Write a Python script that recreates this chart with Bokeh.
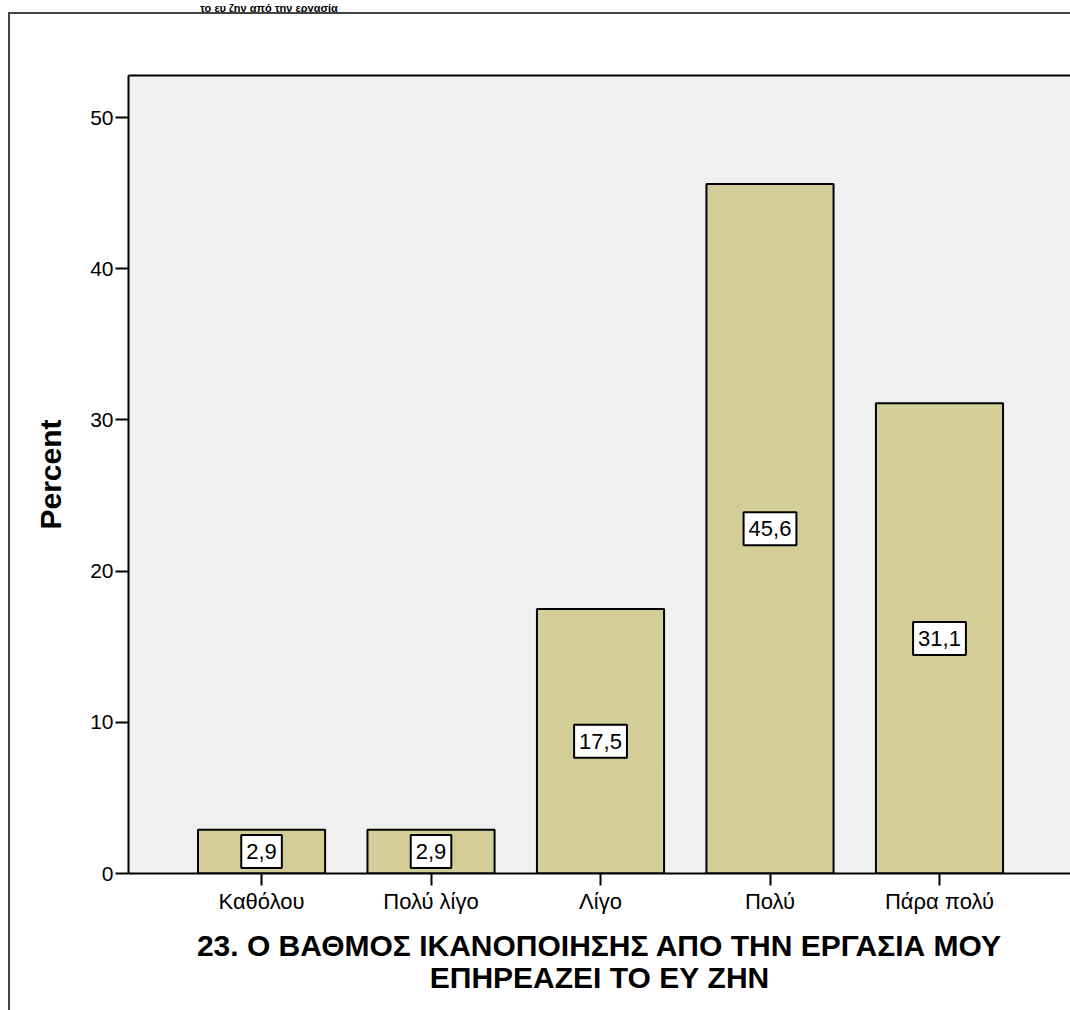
from bokeh.plotting import figure
from bokeh.layouts import column
from bokeh.models import Range1d, FixedTicker, LinearAxis, ColumnDataSource, Label, Div
from bokeh.embed import file_html
from bokeh.resources import INLINE

# Satisfaction responses (percent of respondents)
categories = ["Καθόλου", "Πολύ λίγο", "Λίγο", "Πολύ", "Πάρα πολύ"]
percent = [2.9, 2.9, 17.5, 45.6, 31.1]
y_ticks = [0, 10, 20, 30, 40, 50]

x_title = "23. Ο ΒΑΘΜΟΣ ΙΚΑΝΟΠΟΙΗΣΗΣ ΑΠΟ ΤΗΝ ΕΡΓΑΣΙΑ ΜΟΥ\nΕΠΗΡΕΑΖΕΙ ΤΟ ΕΥ ΖΗΝ"
y_title = "Percent"
top_title = "το ευ ζην από την εργασία"

FONT = "Liberation Sans"
BAR_FILL = "#D3CE97"
PANEL_BG = "#F0F0F0"
FRAME_GREY = "#444444"

positions = list(range(len(categories)))
source = ColumnDataSource(dict(x=positions, top=percent))

# heading strip above the chart box
heading = Div(
    text=f'<div style="font: bold 11px \'{FONT}\', sans-serif; line-height: 10px; '
         f'margin: 0; color: black; white-space: nowrap; padding-left: 200px;">'
         f'{top_title}</div>',
    width=1070, height=12, margin=0, styles={"overflow": "visible"})

p = figure(width=1070, height=998, output_backend="svg", toolbar_location=None,
           x_range=Range1d(-0.785, 4.773), y_range=Range1d(0, 52.78),
           min_border_left=128, min_border_top=63, min_border_bottom=137,
           min_border_right=0, background_fill_color=PANEL_BG,
           border_fill_color=None, outline_line_color=None, margin=0)
p.grid.visible = False

# outer chart border: two grey rules drawn behind the transparent canvas margins
p.styles = {
    "background-color": "white",
    "background-image": f"linear-gradient({FRAME_GREY}, {FRAME_GREY}), "
                        f"linear-gradient({FRAME_GREY}, {FRAME_GREY})",
    "background-size": "2px 100%, 100% 2px",
    "background-position": "8px 0px, 8px 0px",
    "background-repeat": "no-repeat",
}

p.vbar(x="x", top="top", width=0.75, source=source, fill_color=BAR_FILL,
       line_color="black", line_width=2)

# value boxes at mid-height of each bar
for xi, v in zip(positions, percent):
    p.add_layout(Label(x=xi, y=v / 2, text=f"{v:.1f}".replace(".", ","),
                       text_align="center", text_baseline="middle",
                       text_font=FONT, text_font_size="22px", text_color="black",
                       background_fill_color="white", border_line_color="black",
                       border_line_width=2,
                       padding=dict(left=5, right=5, top=9, bottom=9)))

# x axis
xa = p.xaxis[0]
xa.ticker = FixedTicker(ticks=positions)
xa.major_label_overrides = {i: c for i, c in zip(positions, categories)}
xa.minor_tick_line_color = None
xa.major_tick_in = 0
xa.major_tick_out = 12
xa.major_tick_line_width = 2
xa.axis_line_width = 2
xa.axis_line_color = "black"
xa.major_label_text_font = FONT
xa.major_label_text_font_size = "22px"
xa.major_label_text_color = "black"
xa.major_label_standoff = 3
xa.axis_label = x_title
xa.axis_label_text_font = FONT
xa.axis_label_text_font_style = "bold"
xa.axis_label_text_font_size = "30px"
xa.axis_label_text_color = "black"
xa.axis_label_text_line_height = 0.98
xa.axis_label_standoff = 12

# y axis
ya = p.yaxis[0]
ya.ticker = FixedTicker(ticks=y_ticks)
ya.minor_tick_line_color = None
ya.major_tick_in = 0
ya.major_tick_out = 13
ya.major_tick_line_width = 2
ya.axis_line_width = 2
ya.axis_line_color = "black"
ya.major_label_text_font = FONT
ya.major_label_text_font_size = "21px"
ya.major_label_text_color = "black"
ya.major_label_standoff = 2
ya.axis_label = y_title
ya.axis_label_text_font = FONT
ya.axis_label_text_font_style = "bold"
ya.axis_label_text_font_size = "30px"
ya.axis_label_text_color = "black"
ya.axis_label_standoff = 20

# top edge of the panel
top_axis = LinearAxis(ticker=FixedTicker(ticks=[]), axis_line_width=2,
                      axis_line_color="black", major_label_text_font_size="0px",
                      major_tick_line_color=None, minor_tick_line_color=None)
p.add_layout(top_axis, "above")

layout = column(heading, p, spacing=0, margin=0)

open("out.html", "w").write(file_html(layout, INLINE))
